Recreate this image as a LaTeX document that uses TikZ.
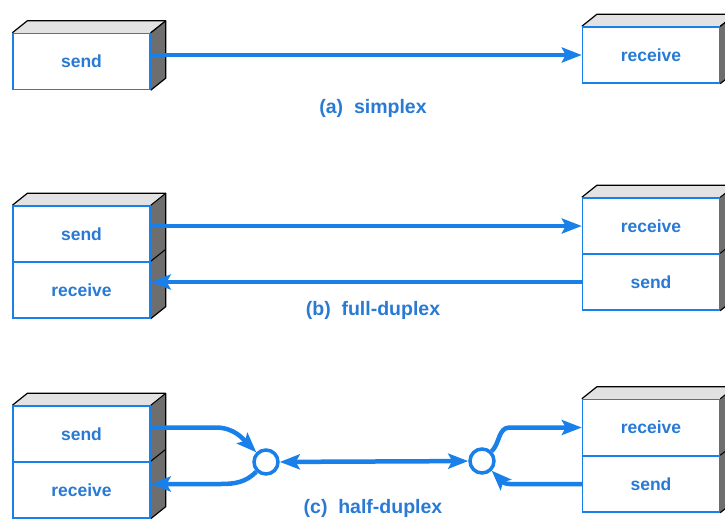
\documentclass[tikz,border=0pt]{standalone}
\usepackage{fontspec}
\setmainfont{Liberation Sans}
\usetikzlibrary{arrows.meta,backgrounds}

\definecolor{linkblue}{RGB}{24,128,232}
\definecolor{labelblue}{RGB}{40,122,212}
\definecolor{topgrey}{RGB}{226,226,226}
\definecolor{sidegrey}{RGB}{110,110,110}

% 3d box: front face(s) are nodes, top and side faces drawn behind
\newcommand\unitbox[2]{%
  \fill[topgrey] (#1.north west) -- ++(15,-12) -- ([shift={(15,-12)}]#1.north east) -- (#1.north east) -- cycle;
  \fill[sidegrey] (#1.north east) -- ++(15,-12) -- ([shift={(15,-12)}]#2.south east) -- (#2.south east) -- cycle;
  \draw[black,line width=1.2pt,line join=round] (#1.north west) -- ++(15,-12) -- ([shift={(15,-12)}]#1.north east)
     -- ([shift={(15,-12)}]#2.south east) -- (#2.south east);
  \draw[black,line width=1pt] (#1.north east) -- ++(15,-12);
  \draw[black,line width=1pt] (#2.north east) -- ++(15,-12);
}

\begin{document}
\begin{tikzpicture}[x=1pt,y=-1pt,
    unit/.style={draw=linkblue,line width=1.4pt,fill=white,minimum width=137pt,minimum height=56pt,
      inner sep=0pt,text=labelblue,font=\fontsize{17.5}{19}\selectfont\bfseries},
    caption/.style={text=labelblue,font=\fontsize{19.5}{21}\selectfont\bfseries},
    tip/.tip={Stealth[length=20pt,width=15pt,inset=4pt]},
    link/.style={draw=linkblue,line width=4.5pt,-tip},
    joint/.style={circle,draw=linkblue,line width=3.5pt,fill=white,minimum size=24pt,inner sep=0pt}]
  \useasboundingbox (0,0) rectangle (725,519);

  % (a) simplex
  \node[unit] (as) at (81.5,61.5) {send};
  \node[unit] (ar) at (651,55) {receive};
  \node[caption] (ca) at (373,108) {(a)\ \ simplex};

  % (b) full-duplex
  \node[unit] (bs) at (81.5,234) {send};
  \node[unit] (br) at (81.5,290) {receive};
  \node[unit] (brr) at (651,226) {receive};
  \node[unit] (brs) at (651,282) {send};
  \node[caption] (cb) at (373,310) {(b)\ \ full-duplex};

  % (c) half-duplex
  \node[unit] (cs) at (81.5,434) {send};
  \node[unit] (cr) at (81.5,490) {receive};
  \node[unit] (crr) at (651,427.5) {receive};
  \node[unit] (crs) at (651,484) {send};
  \node[caption] (cc) at (373,508) {(c)\ \ half-duplex};
  \node[joint] (lj) at (266,462) {};
  \node[joint] (rj) at (482,461) {};

  \begin{pgfonlayer}{background}
    \unitbox{as}{as}
    \unitbox{ar}{ar}
    \unitbox{bs}{br}
    \unitbox{brr}{brs}
    \unitbox{cs}{cr}
    \unitbox{crr}{crs}
  \end{pgfonlayer}

  \draw[link] (as.east |- ar.west) -- (ar.west);
  \draw[link] (bs.east |- brr.west) -- (brr.west);
  \draw[link] (brs.west) -- (br.east |- brs.west);
  \draw[link,tip-tip] (lj) -- (rj);
  \draw[link] (cs.east |- crr.west) -- ++(65,0) to[out=0,in=135] (lj);
  \draw[link] (lj) to[out=-135,in=0] ([xshift=70pt]cr.east |- crs.west) -- (cr.east |- crs.west);
  \draw[link] (rj) to[out=45,in=180] ([xshift=-72pt]crr.west) -- (crr.west);
  \draw[link] (crs.west) -- ++(-72,0) to[out=180,in=-45] (rj);
\end{tikzpicture}
\end{document}
